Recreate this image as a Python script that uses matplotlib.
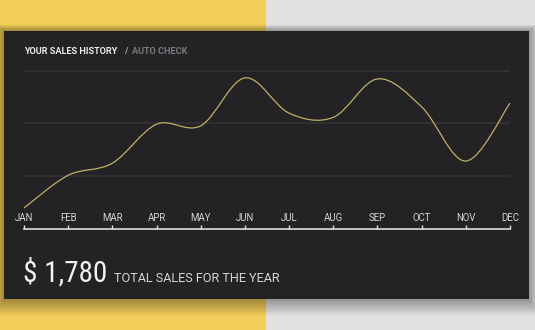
import numpy as np
import matplotlib
matplotlib.use("Agg")
import matplotlib.pyplot as plt
from matplotlib.patches import Rectangle, PathPatch
from matplotlib.path import Path

# data
months = ["JAN", "FEB", "MAR", "APR", "MAY", "JUN",
          "JUL", "AUG", "SEP", "OCT", "NOV", "DEC"]
sales = [39, 101, 124, 198, 195, 286, 219, 211, 284, 231, 128, 238]
grid_vals = [100, 200, 300]
total_label = "$ 1,780"
total_text = "TOTAL SALES FOR THE YEAR"

W, H = 535, 330
fig = plt.figure(figsize=(W / 100, H / 100), dpi=100)

def px(x, y):
    # pixel coords (from top-left) -> figure fraction
    return x / W, 1 - y / H

# background: yellow left, grey right
fig.patches.append(Rectangle((0, 0), 266 / W, 1, transform=fig.transFigure,
                             facecolor="#f2cd5a", edgecolor="none", zorder=0))
fig.patches.append(Rectangle((266 / W, 0), 1 - 266 / W, 1, transform=fig.transFigure,
                             facecolor="#e1e1e1", edgecolor="none", zorder=0))

# soft shadow under the card
cx0, cy0, cx1, cy1 = 4, 31, 529, 299
for i in range(10, 0, -1):
    d = i * 1.6
    fig.patches.append(Rectangle(px(cx0 - d * 0.6, cy1 + d), (cx1 - cx0 + d * 1.2) / W,
                                 (cy1 - cy0 + d * 1.4) / H, transform=fig.transFigure,
                                 facecolor="black", alpha=0.035, edgecolor="none", zorder=1))
fig.patches.append(Rectangle(px(cx0, cy1), (cx1 - cx0) / W, (cy1 - cy0) / H,
                             transform=fig.transFigure, facecolor="#232225",
                             edgecolor="none", zorder=2))

# chart area: JAN at x=24, DEC at x=510, value 0 at y=228.5, 300 at y=70.5
x_left, x_right = 24, 510
y_zero, y_top = 228.5, 60
ppu = (228.5 - 70.5) / 300.0
ax = fig.add_axes([x_left / W, 1 - y_zero / H, (x_right - x_left) / W, (y_zero - y_top) / H])
ax.set_xlim(0, 11)
ax.set_ylim(0, (y_zero - y_top) / ppu)
ax.patch.set_alpha(0)
ax.set_zorder(3)

for g in grid_vals:
    ax.axhline(g, color="#353437", lw=1.1, zorder=1)

# smooth curve through the monthly points (catmull-rom as bezier segments)
xs = np.arange(len(sales), dtype=float)
ys = np.array(sales, dtype=float)
px_ = np.concatenate([[xs[0]], xs, [xs[-1]]])
py_ = np.concatenate([[ys[0]], ys, [ys[-1]]])
verts = [(xs[0], ys[0])]
codes = [Path.MOVETO]
for i in range(1, len(px_) - 2):
    c1 = (px_[i] + (px_[i + 1] - px_[i - 1]) / 6, py_[i] + (py_[i + 1] - py_[i - 1]) / 6)
    c2 = (px_[i + 1] - (px_[i + 2] - px_[i]) / 6, py_[i + 1] - (py_[i + 2] - py_[i]) / 6)
    verts += [c1, c2, (px_[i + 1], py_[i + 1])]
    codes += [Path.CURVE4] * 3
ax.add_patch(PathPatch(Path(verts, codes), facecolor="none", edgecolor="#c2b060",
                       lw=0.9, zorder=3, clip_on=False))

for s in ["top", "right", "left"]:
    ax.spines[s].set_visible(False)
ax.spines["bottom"].set_color("#dcdcdc")
ax.spines["bottom"].set_linewidth(1.2)
ax.set_yticks([])
ax.set_xticks(xs)
ax.set_xticklabels(months, fontfamily="Roboto", fontsize=6.9, color="#d4d4d4")
ax.tick_params(axis="x", direction="in", length=2.6, width=1, color="#dcdcdc", pad=-4)
for lab in ax.get_xticklabels():
    lab.set_verticalalignment("bottom")

# header
fig.text(*px(24, 54.5), "YOUR SALES HISTORY", fontfamily="Roboto", fontweight="bold",
         fontsize=6.6, color="#ececec", zorder=5)
fig.text(*px(124, 54.5), "/", fontfamily="Roboto", fontweight="bold",
         fontsize=6.6, color="#a8a8a8", zorder=5)
fig.text(*px(132, 54.5), "AUTO CHECK", fontfamily="Roboto", fontweight="bold",
         fontsize=6.6, color="#7b7a7e", zorder=5)

# total
fig.text(*px(23, 282), total_label, fontfamily="Roboto Condensed", fontsize=21,
         color="#f2f2f2", zorder=5)
fig.text(*px(114, 282), total_text, fontfamily="Roboto", fontsize=9.1, color="#d6d6d6", zorder=5)

fig.savefig("out.png", dpi=100)
